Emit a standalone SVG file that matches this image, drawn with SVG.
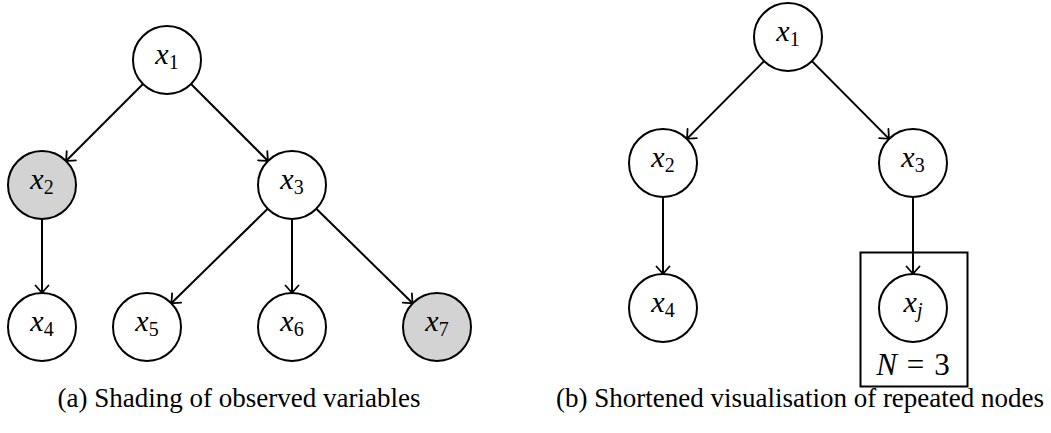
<svg xmlns="http://www.w3.org/2000/svg" width="1051" height="433" viewBox="0 0 1051 433">
  <style>
    .node { fill: #ffffff; stroke: #000000; stroke-width: 2; }
    .obs { fill: #d3d3d3; }
    .edge { stroke: #000000; stroke-width: 2; fill: none; }
    .lbl { font-family: "Liberation Serif", "Times New Roman", serif; font-size: 30px; font-style: italic; fill: #000; text-anchor: middle; }
    .sub { font-size: 20px; font-style: normal; }
    .subi { font-size: 20px; font-style: italic; }
    .up { font-style: normal; }
    .cap { font-family: "Liberation Serif", "Times New Roman", serif; font-size: 27px; fill: #000; text-anchor: middle; }
    .plate { fill: none; stroke: #000; stroke-width: 2; }
  </style>
  <defs>
    <marker id="arrow" markerUnits="userSpaceOnUse" markerWidth="16" markerHeight="16" refX="0" refY="0" viewBox="-10 -8 12 16" orient="auto">
      <path d="M -7.5 -6.5 Q -2 -1.5 0 0 Q -2 1.5 -7.5 6.5" fill="none" stroke="#000" stroke-width="1.8" stroke-linecap="round"/>
    </marker>
  </defs>

  <!-- connectors -->
  <g id="edges" class="edge" marker-end="url(#arrow)">
    <!-- (a) -->
    <line x1="143" y1="84" x2="66" y2="161"/>
    <line x1="191" y1="84" x2="268" y2="161"/>
    <line x1="42" y1="219" x2="42" y2="293"/>
    <line x1="267.7" y1="208.8" x2="171.3" y2="303.2"/>
    <line x1="292" y1="219" x2="292" y2="293"/>
    <line x1="316.3" y1="208.8" x2="412.7" y2="303.2"/>
    <!-- (b) -->
    <line x1="764.1" y1="61.1" x2="686.9" y2="138.9"/>
    <line x1="811.9" y1="61.1" x2="889.1" y2="138.9"/>
    <line x1="663" y1="197" x2="663" y2="274"/>
    <line x1="913" y1="197" x2="913" y2="274"/>
  </g>

  <!-- (a) tree with observed variables shaded -->
  <g id="a-x1"><circle class="node" cx="167" cy="60" r="34"/><text class="lbl" x="167" y="64">x<tspan class="sub" dy="5">1</tspan></text></g>
  <g id="a-x2"><circle class="node obs" cx="42" cy="185" r="34"/><text class="lbl" x="42" y="189">x<tspan class="sub" dy="5">2</tspan></text></g>
  <g id="a-x3"><circle class="node" cx="292" cy="185" r="34"/><text class="lbl" x="292" y="189">x<tspan class="sub" dy="5">3</tspan></text></g>
  <g id="a-x4"><circle class="node" cx="42" cy="327" r="34"/><text class="lbl" x="42" y="331">x<tspan class="sub" dy="5">4</tspan></text></g>
  <g id="a-x5"><circle class="node" cx="147" cy="327" r="34"/><text class="lbl" x="147" y="331">x<tspan class="sub" dy="5">5</tspan></text></g>
  <g id="a-x6"><circle class="node" cx="292" cy="327" r="34"/><text class="lbl" x="292" y="331">x<tspan class="sub" dy="5">6</tspan></text></g>
  <g id="a-x7"><circle class="node obs" cx="437" cy="327" r="34"/><text class="lbl" x="437" y="331">x<tspan class="sub" dy="5">7</tspan></text></g>

  <!-- (b) tree with plate notation -->
  <g id="b-x1"><circle class="node" cx="788" cy="37" r="34"/><text class="lbl" x="788" y="41">x<tspan class="sub" dy="5">1</tspan></text></g>
  <g id="b-x2"><circle class="node" cx="663" cy="163" r="34"/><text class="lbl" x="663" y="167">x<tspan class="sub" dy="5">2</tspan></text></g>
  <g id="b-x3"><circle class="node" cx="913" cy="163" r="34"/><text class="lbl" x="913" y="167">x<tspan class="sub" dy="5">3</tspan></text></g>
  <g id="b-x4"><circle class="node" cx="663" cy="308" r="34"/><text class="lbl" x="663" y="312">x<tspan class="sub" dy="5">4</tspan></text></g>
  <g id="b-plate">
    <rect class="plate" x="860.5" y="252.5" width="107" height="134"/>
    <text class="lbl" x="913" y="375" style="font-size:31px">N<tspan class="up" dx="10">=</tspan><tspan class="up" dx="10">3</tspan></text>
  </g>
  <g id="b-xj"><circle class="node" cx="913" cy="308" r="34"/><text class="lbl" x="913" y="312">x<tspan class="subi" dy="5">j</tspan></text></g>

  <!-- captions -->
  <text class="cap" x="239" y="407">(a) Shading of observed variables</text>
  <text class="cap" x="800" y="407">(b) Shortened visualisation of repeated nodes</text>
</svg>
